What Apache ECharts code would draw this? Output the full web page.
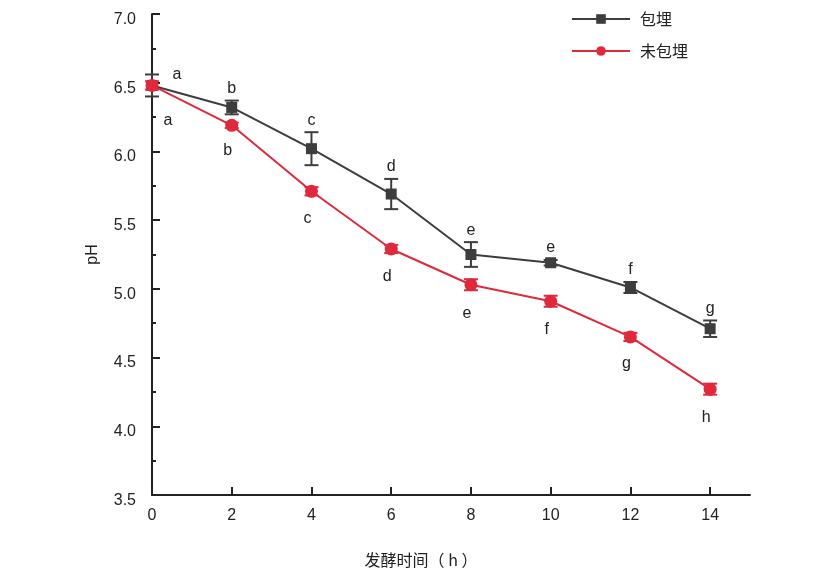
<!DOCTYPE html>
<html style="height: 100%">
<head>
<meta charset="utf-8">
<script src="https://cdn.jsdelivr.net/npm/echarts@6/dist/echarts.min.js"></script>
</head>
<body style="height: 100%; margin: 0; background: #fff">
<div id="container" style="width: 826px; height: 574px"></div>
<script>
// 发酵时间 (h)
var hours = [0, 2, 4, 6, 8, 10, 12, 14];
// 包埋组 pH 及误差
var embedded = [6.48, 6.32, 6.02, 5.69, 5.25, 5.19, 5.01, 4.71];
var embeddedErr = [0.08, 0.05, 0.12, 0.11, 0.09, 0.02, 0.04, 0.06];
var embeddedLetters = ['a', 'b', 'c', 'd', 'e', 'e', 'f', 'g'];
// 未包埋组 pH 及误差
var bare = [6.48, 6.19, 5.71, 5.29, 5.03, 4.91, 4.65, 4.27];
var bareErr = [0.03, 0.02, 0.03, 0.03, 0.04, 0.04, 0.03, 0.04];
var bareLetters = ['a', 'b', 'c', 'd', 'e', 'f', 'g', 'h'];

var xTicks = [0, 2, 4, 6, 8, 10, 12, 14];

var GRAY = '#3d3d3d';
var RED = '#e0293d';
var FONT = '"Liberation Sans", Arial, sans-serif';
var CJK = '"Noto Sans CJK SC", sans-serif';

function pairs(ys) {
  return hours.map(function (h, i) { return [h, ys[i]]; });
}
function errData(ys, errs, letters) {
  return hours.map(function (h, i) {
    return [h, ys[i] - errs[i], ys[i] + errs[i], letters[i]];
  });
}

// 误差棒 + 显著性字母
function makeErrRender(color, above) {
  return function (params, api) {
    var x = api.value(0);
    var top = api.coord([x, api.value(2)]);
    var bot = api.coord([x, api.value(1)]);
    var mid = api.coord([x, (api.value(1) + api.value(2)) / 2]);
    var w = 7;
    var tx, ty;
    if (params.dataIndex === 0) {
      tx = mid[0] + (above ? 25 : 16);
      ty = mid[1] + (above ? -11 : 35);
    } else if (above) {
      tx = top[0];
      ty = top[1] - 12;
    } else {
      tx = bot[0] - 4;
      ty = bot[1] + 23;
    }
    var letter = above ? embeddedLetters[params.dataIndex] : bareLetters[params.dataIndex];
    return {
      type: 'group',
      children: [
        { type: 'line', shape: { x1: top[0], y1: top[1], x2: bot[0], y2: bot[1] },
          style: { stroke: color, lineWidth: 2 } },
        { type: 'line', shape: { x1: top[0] - w, y1: top[1], x2: top[0] + w, y2: top[1] },
          style: { stroke: color, lineWidth: 2 } },
        { type: 'line', shape: { x1: bot[0] - w, y1: bot[1], x2: bot[0] + w, y2: bot[1] },
          style: { stroke: color, lineWidth: 2 } },
        { type: 'text', x: tx, y: ty,
          style: { text: letter, fill: '#222', font: '16px ' + FONT,
                   textAlign: 'center', textVerticalAlign: 'middle' } }
      ]
    };
  };
}

var chart = echarts.init(document.getElementById('container'));
var option = {
  backgroundColor: '#fff',
  animation: false,
  textStyle: { fontFamily: FONT },
  grid: { left: 152, right: 76, top: 14, bottom: 79, containLabel: false },
  legend: {
    right: 133,
    top: 6,
    orient: 'vertical',
    itemWidth: 58,
    itemHeight: 12,
    itemGap: 16,
    textStyle: { fontSize: 16, color: '#222', fontFamily: CJK, padding: [0, 0, 0, 5] },
    data: ['包埋', '未包埋']
  },
  xAxis: {
    type: 'value',
    min: 0, max: 15, interval: 2,
    name: '发酵时间（ h ）',
    nameLocation: 'middle',
    nameGap: 57,
    nameTextStyle: { fontSize: 16, color: '#222', fontFamily: CJK, padding: [0, 60, 0, 0] },
    axisLine: { onZero: false, lineStyle: { color: '#222', width: 2 } },
    axisTick: { inside: true, length: 8, customValues: xTicks, lineStyle: { color: '#222', width: 2 } },
    axisLabel: { customValues: xTicks, fontSize: 16, color: '#222', margin: 13 },
    splitLine: { show: false }
  },
  yAxis: {
    type: 'value',
    min: 3.5, max: 7.0, interval: 0.5,
    name: 'pH',
    nameLocation: 'middle',
    nameGap: 51,
    nameTextStyle: { fontSize: 16, color: '#222' },
    axisLine: { show: true, lineStyle: { color: '#222', width: 2 } },
    axisTick: { inside: true, length: 8, lineStyle: { color: '#222', width: 2 } },
    minorTick: { show: true, splitNumber: 2, length: 4, lineStyle: { color: '#222', width: 2 } },
    axisLabel: { fontSize: 16, color: '#222', margin: 16, verticalAlign: 'top', lineHeight: 11,
      formatter: function (v) { return v.toFixed(1); } },
    splitLine: { show: false }
  },
  series: [
    {
      name: '包埋', type: 'line', data: pairs(embedded),
      symbol: 'rect', symbolSize: 11,
      lineStyle: { color: GRAY, width: 2 },
      itemStyle: { color: GRAY },
      z: 3
    },
    {
      name: '未包埋', type: 'line', data: pairs(bare),
      symbol: 'circle', symbolSize: 13,
      lineStyle: { color: RED, width: 2 },
      itemStyle: { color: RED },
      z: 4
    },
    {
      type: 'custom', name: 'err1', data: errData(embedded, embeddedErr, embeddedLetters),
      renderItem: makeErrRender(GRAY, true), z: 2, silent: true
    },
    {
      type: 'custom', name: 'err2', data: errData(bare, bareErr, bareLetters),
      renderItem: makeErrRender(RED, false), z: 5, silent: true
    }
  ]
};
chart.setOption(option);
</script>
</body>
</html>
